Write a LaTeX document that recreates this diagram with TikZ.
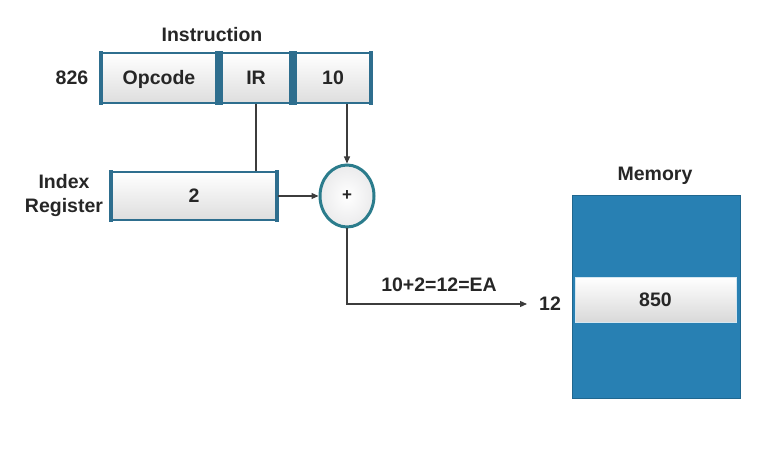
\documentclass[tikz,border=0pt]{standalone}
\usepackage{fontspec}
\setmainfont{Liberation Sans}
\usetikzlibrary{arrows.meta,shapes.geometric,calc}
\definecolor{cellborder}{HTML}{2E6E8E}
\definecolor{membg}{HTML}{2880B3}
\definecolor{ink}{HTML}{262626}
\definecolor{ringc}{HTML}{2B7C8C}
\begin{document}
\begin{tikzpicture}[x=1pt,y=-1pt,
  txt/.style={font=\bfseries\fontsize{19.5}{24}\selectfont, text=ink, inner sep=1pt},
  cell/.style={txt, draw=cellborder, line width=1.8pt, top color=white, bottom color=black!13,
    minimum height=50pt, inner sep=0pt, text height=14pt, text depth=0pt},
  memcell/.style={txt, draw=white!80!membg, line width=0.8pt, top color=white, bottom color=black!15,
    minimum width=161pt, minimum height=45pt, inner sep=0pt, text height=14pt, text depth=0pt},
  ring/.style={ellipse, draw=ringc, line width=3pt, inner color=white, outer color=blue!6!black!8,
    minimum width=54pt, minimum height=62pt, inner sep=0pt, font=\bfseries\fontsize{17}{17}\selectfont, text=ink},
  wire/.style={draw=ink!90, line width=1.1pt},
  arr/.style={wire, -{Triangle[length=7pt,width=6pt]}}]
\useasboundingbox (0,0) rectangle (757,454);

% instruction word
\node[txt] (title) at (212,35) {Instruction};
\node[txt] (addr) at (72,78) {826};
\node[cell, minimum width=116pt] (op) at (159,78) {Opcode};
\node[cell, minimum width=70pt] (ir) at (256,78) {IR};
\node[cell, minimum width=76pt] (ten) at (333,78) {10};

% index register
\node[txt, align=center] (idxlbl) at (64,196) {Index\\Register};
\node[cell, minimum width=166pt, minimum height=48pt] (idx) at (194,196) {2};

% thick side bars on the register cells
\foreach \c in {op,ir,ten,idx}{
  \fill[cellborder] ([xshift=-0.9pt,yshift=-0.9pt]\c.south west) rectangle ([xshift=3pt,yshift=0.9pt]\c.north west);
  \fill[cellborder] ([xshift=0.9pt,yshift=-0.9pt]\c.south east) rectangle ([xshift=-3pt,yshift=0.9pt]\c.north east);
}

% adder
\node[ring] (sum) at (347,196) {+};

% memory
\node[txt] (memlbl) at (655,176) {Memory};
\fill[membg] (572,195) rectangle (740,398);
\draw[membg!80!black, line width=0.6pt] (572,195) rectangle (740,398);
\node[memcell] (mem) at (655.5,299.5) {850};
\node[txt] (n12) at (550,304) {12};
\coordinate (eaend) at (527,304);

% connectors
\draw[wire] (ir.south) -- (ir.south |- idx.north);
\draw[arr] (sum.north |- ten.south) -- (sum.north);
\draw[arr] (idx.east) -- (sum.west);
\draw[arr] (sum.south) |- (eaend);
\node[txt] (ea) at (439,285) {10+2=12=EA};
\end{tikzpicture}
\end{document}
